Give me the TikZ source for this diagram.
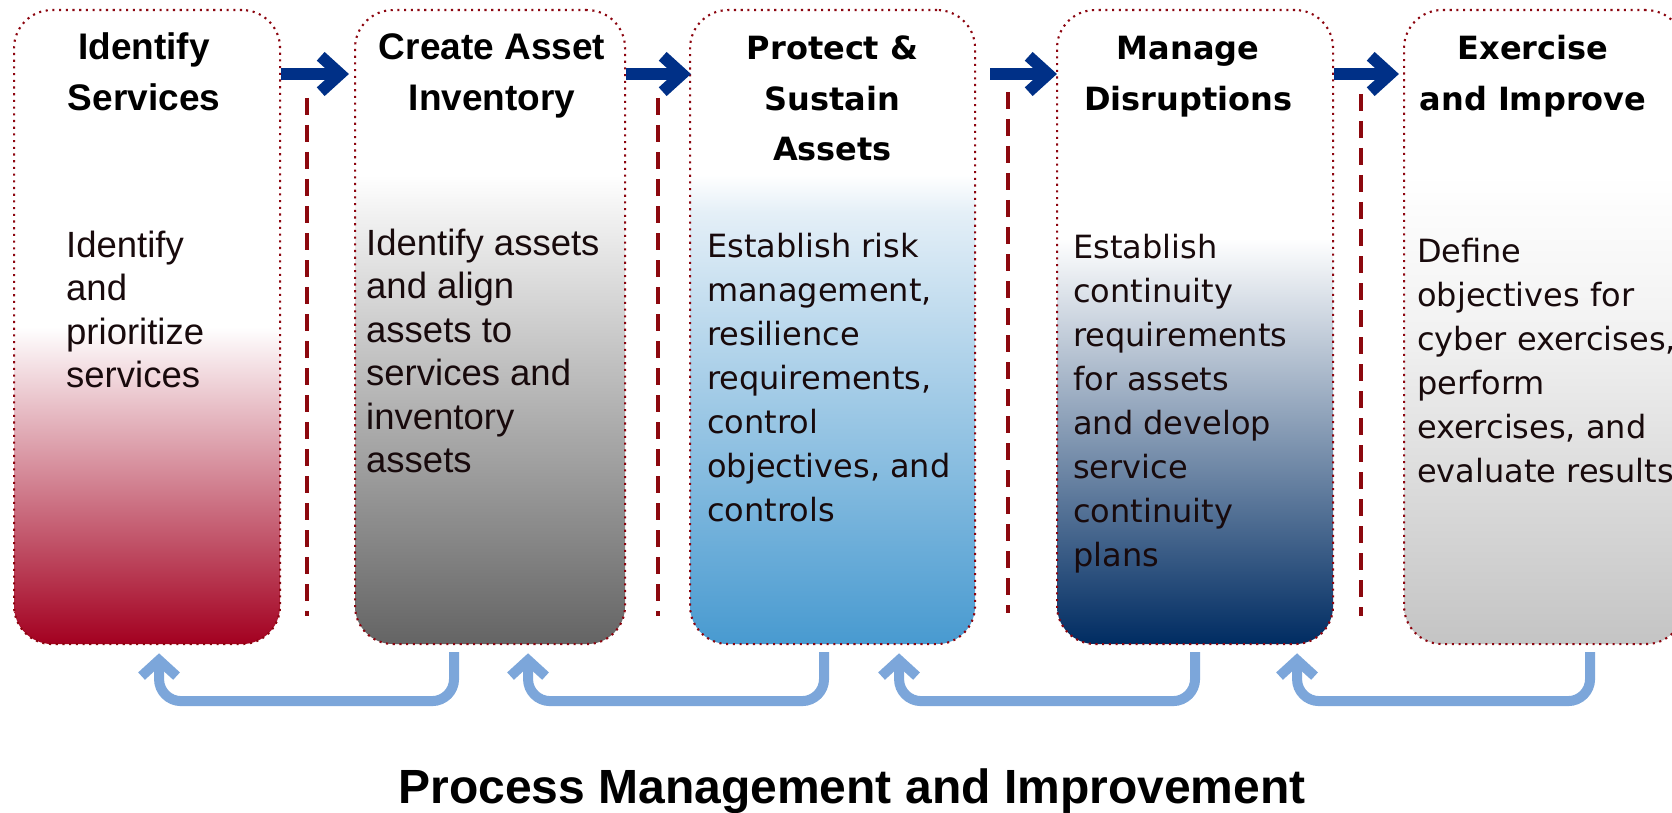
\documentclass[tikz,border=0pt]{standalone}
\usepackage{fontspec}
\setmainfont{DejaVu Sans}
\newfontfamily\gothic{Liberation Sans}

% palette
\definecolor{framered}{RGB}{140,5,15}
\definecolor{flownavy}{RGB}{0,48,135}
\definecolor{dividerred}{RGB}{140,8,14}
\definecolor{loopblue}{RGB}{124,166,218}
\definecolor{ink}{RGB}{24,10,12}
\definecolor{crimsonend}{RGB}{163,0,32}
\definecolor{greyend}{RGB}{100,100,100}
\definecolor{greystart}{RGB}{246,246,246}
\definecolor{skyend}{RGB}{72,154,208}
\definecolor{skystart}{RGB}{228,239,247}
\definecolor{navyend}{RGB}{0,44,98}
\definecolor{silverend}{RGB}{196,196,196}
\definecolor{silverstart}{RGB}{242,242,242}

% vertical fades: the box spans 25bp (bottom) to 75bp (top)
\pgfdeclareverticalshading{crimsonfade}{100bp}{color(0bp)=(crimsonend); color(25bp)=(crimsonend); color(50bp)=(white); color(100bp)=(white)}
\pgfdeclareverticalshading{greyfade}{100bp}{color(0bp)=(greyend); color(25bp)=(greyend); color(60bp)=(greystart); color(62bp)=(white); color(100bp)=(white)}
\pgfdeclareverticalshading{skyfade}{100bp}{color(0bp)=(skyend); color(25bp)=(skyend); color(59bp)=(skystart); color(62bp)=(white); color(100bp)=(white)}
\pgfdeclareverticalshading{navyfade}{100bp}{color(0bp)=(navyend); color(25bp)=(navyend); color(57bp)=(white); color(100bp)=(white)}
\pgfdeclareverticalshading{silverfade}{100bp}{color(0bp)=(silverend); color(25bp)=(silverend); color(50bp)=(silverstart); color(62bp)=(white); color(100bp)=(white)}

% thick navy arrow with a chevron head; #2 is the outer tip
\newcommand{\stagearrow}[2]{%
  \draw[flowline] (#1) -- ([xshift=-10pt]#2);
  \draw[flowline, line join=miter] ([shift={(-28.3,-17.7)}]#2) -- ([xshift=-8.8pt]#2) -- ([shift={(-28.3,17.7)}]#2);
}
% rounded feedback arrow running back under the stages; #2 is the outer tip
\newcommand{\loopback}[2]{%
  \draw[loopline] (#1) -- ++(0,49) -| ([yshift=-9pt]#2);
  \draw[loopline, rounded corners=0pt, line join=miter] ([shift={(-17.5,24)}]#2) -- ([shift={(0,8)}]#2) -- ([shift={(17.5,24)}]#2);
}

\begin{document}
\begin{tikzpicture}[x=1pt, y=-1pt,
  stage/.style={draw=framered, line width=2.1pt, dash pattern=on 2.1pt off 4.6pt,
    rounded corners=38pt, anchor=north west, minimum height=634pt, inner sep=0pt},
  flowline/.style={draw=flownavy, line width=11.7pt},
  divider/.style={draw=dividerred, line width=4pt, dash pattern=on 17pt off 10pt},
  loopline/.style={draw=loopblue, line width=10pt, rounded corners=22pt},
  gothictitle/.style={font=\gothic\bfseries\fontsize{37}{50.5}\selectfont, align=center, anchor=base, inner sep=0pt, text=black},
  widetitle/.style={font=\bfseries\fontsize{32}{50.5}\selectfont, align=center, anchor=base, inner sep=0pt, text=black},
  gothicbody/.style={font=\gothic\fontsize{36.5}{43.5}\selectfont, align=left, anchor=base west, inner sep=0pt, text=ink},
  widebody/.style={font=\fontsize{32}{44}\selectfont, align=left, anchor=base west, inner sep=0pt, text=ink},
  caption/.style={font=\gothic\bfseries\fontsize{48}{58}\selectfont, anchor=base, inner sep=0pt, text=black}]

\useasboundingbox (0,0) rectangle (1672,813);
\clip (0,0) rectangle (1672,813);
\fill[white] (0,0) rectangle (1672,813);

% stages
\node[stage, shading=crimsonfade, minimum width=266pt] (b1) at (13,9) {};
\node[stage, shading=greyfade, minimum width=270pt] (b2) at (354,9) {};
\node[stage, shading=skyfade, minimum width=285pt] (b3) at (689,9) {};
\node[stage, shading=navyfade, minimum width=276pt] (b4) at (1056,9) {};
\node[stage, shading=silverfade, minimum width=280pt] (b5) at (1403,9) {};

% titles (a multi-line node sits on the baseline of its last line)
\coordinate (titletwo) at (0,110.5);
\coordinate (titlethree) at (0,161);
\path (b1.north |- titletwo) ++(-3,0) node[gothictitle] (t1) {Identify\\Services};
\path (b2.north |- titletwo) ++(2,0) node[gothictitle] (t2) {Create Asset\\Inventory};
\path (b3.north |- titlethree) node[widetitle] (t3) {Protect \&\\Sustain\\Assets};
\path (b4.north |- titletwo) ++(-7,0) node[widetitle] (t4) {Manage\\Disruptions};
\path (b5.north |- titletwo) ++(-11,0) node[widetitle] (t5) {Exercise\\and Improve};

% descriptions
\node[gothicbody] (p1) at (66,387.5) {Identify\\and\\prioritize\\services};
\node[gothicbody] (p2) at (366,472.5) {Identify assets\\and align\\assets to\\services and\\inventory\\assets};
\node[widebody] (p3) at (707,521) {Establish risk\\management,\\resilience\\requirements,\\control\\objectives, and\\controls};
\node[widebody] (p4) at (1073,566) {Establish\\continuity\\requirements\\for assets\\and develop\\service\\continuity\\plans};
\node[widebody] (p5) at (1417,482) {Define\\objectives for\\cyber exercises,\\perform\\exercises, and\\evaluate results};

% forward flow
\coordinate (row) at (0,74);
\path (b1.east |- row) coordinate (f1s) (b2.west |- row) ++(-5,0) coordinate (f1e);
\path (b2.east |- row) coordinate (f2s) (b3.west |- row) ++(2,0) coordinate (f2e);
\path (b3.east |- row) ++(14,0) coordinate (f3s) (b4.west |- row) ++(1,0) coordinate (f3e);
\path (b4.east |- row) coordinate (f4s) (b5.west |- row) ++(-4,0) coordinate (f4e);
\stagearrow{f1s}{f1e}
\stagearrow{f2s}{f2e}
\stagearrow{f3s}{f3e}
\stagearrow{f4s}{f4e}

% dividers between stages
\coordinate (d1a) at (307,98);  \coordinate (d1b) at (307,616);
\coordinate (d2a) at (658,98);  \coordinate (d2b) at (658,616);
\coordinate (d3a) at (1008,92); \coordinate (d3b) at (1008,613);
\coordinate (d4a) at (1361,94); \coordinate (d4b) at (1361,616);
\draw[divider] (d1a) -- (d1b);
\draw[divider] (d2a) -- (d2b);
\draw[divider] (d3a) -- (d3b);
\draw[divider] (d4a) -- (d4b);

% feedback loops
\path ([shift={(-36,7)}]b2.south) coordinate (k1s) ([shift={(12,7)}]b1.south) coordinate (k1e);
\path ([shift={(-8.5,7)}]b3.south) coordinate (k2s) ([shift={(38,7)}]b2.south) coordinate (k2e);
\path ([shift={(0,7)}]b4.south) coordinate (k3s) ([shift={(66.5,7)}]b3.south) coordinate (k3e);
\path ([shift={(46,7)}]b5.south) coordinate (k4s) ([shift={(102,7)}]b4.south) coordinate (k4e);
\loopback{k1s}{k1e}
\loopback{k2s}{k2e}
\loopback{k3s}{k3e}
\loopback{k4s}{k4e}

\node[caption] (cap) at (852,803) {Process Management and Improvement};
\end{tikzpicture}
\end{document}
